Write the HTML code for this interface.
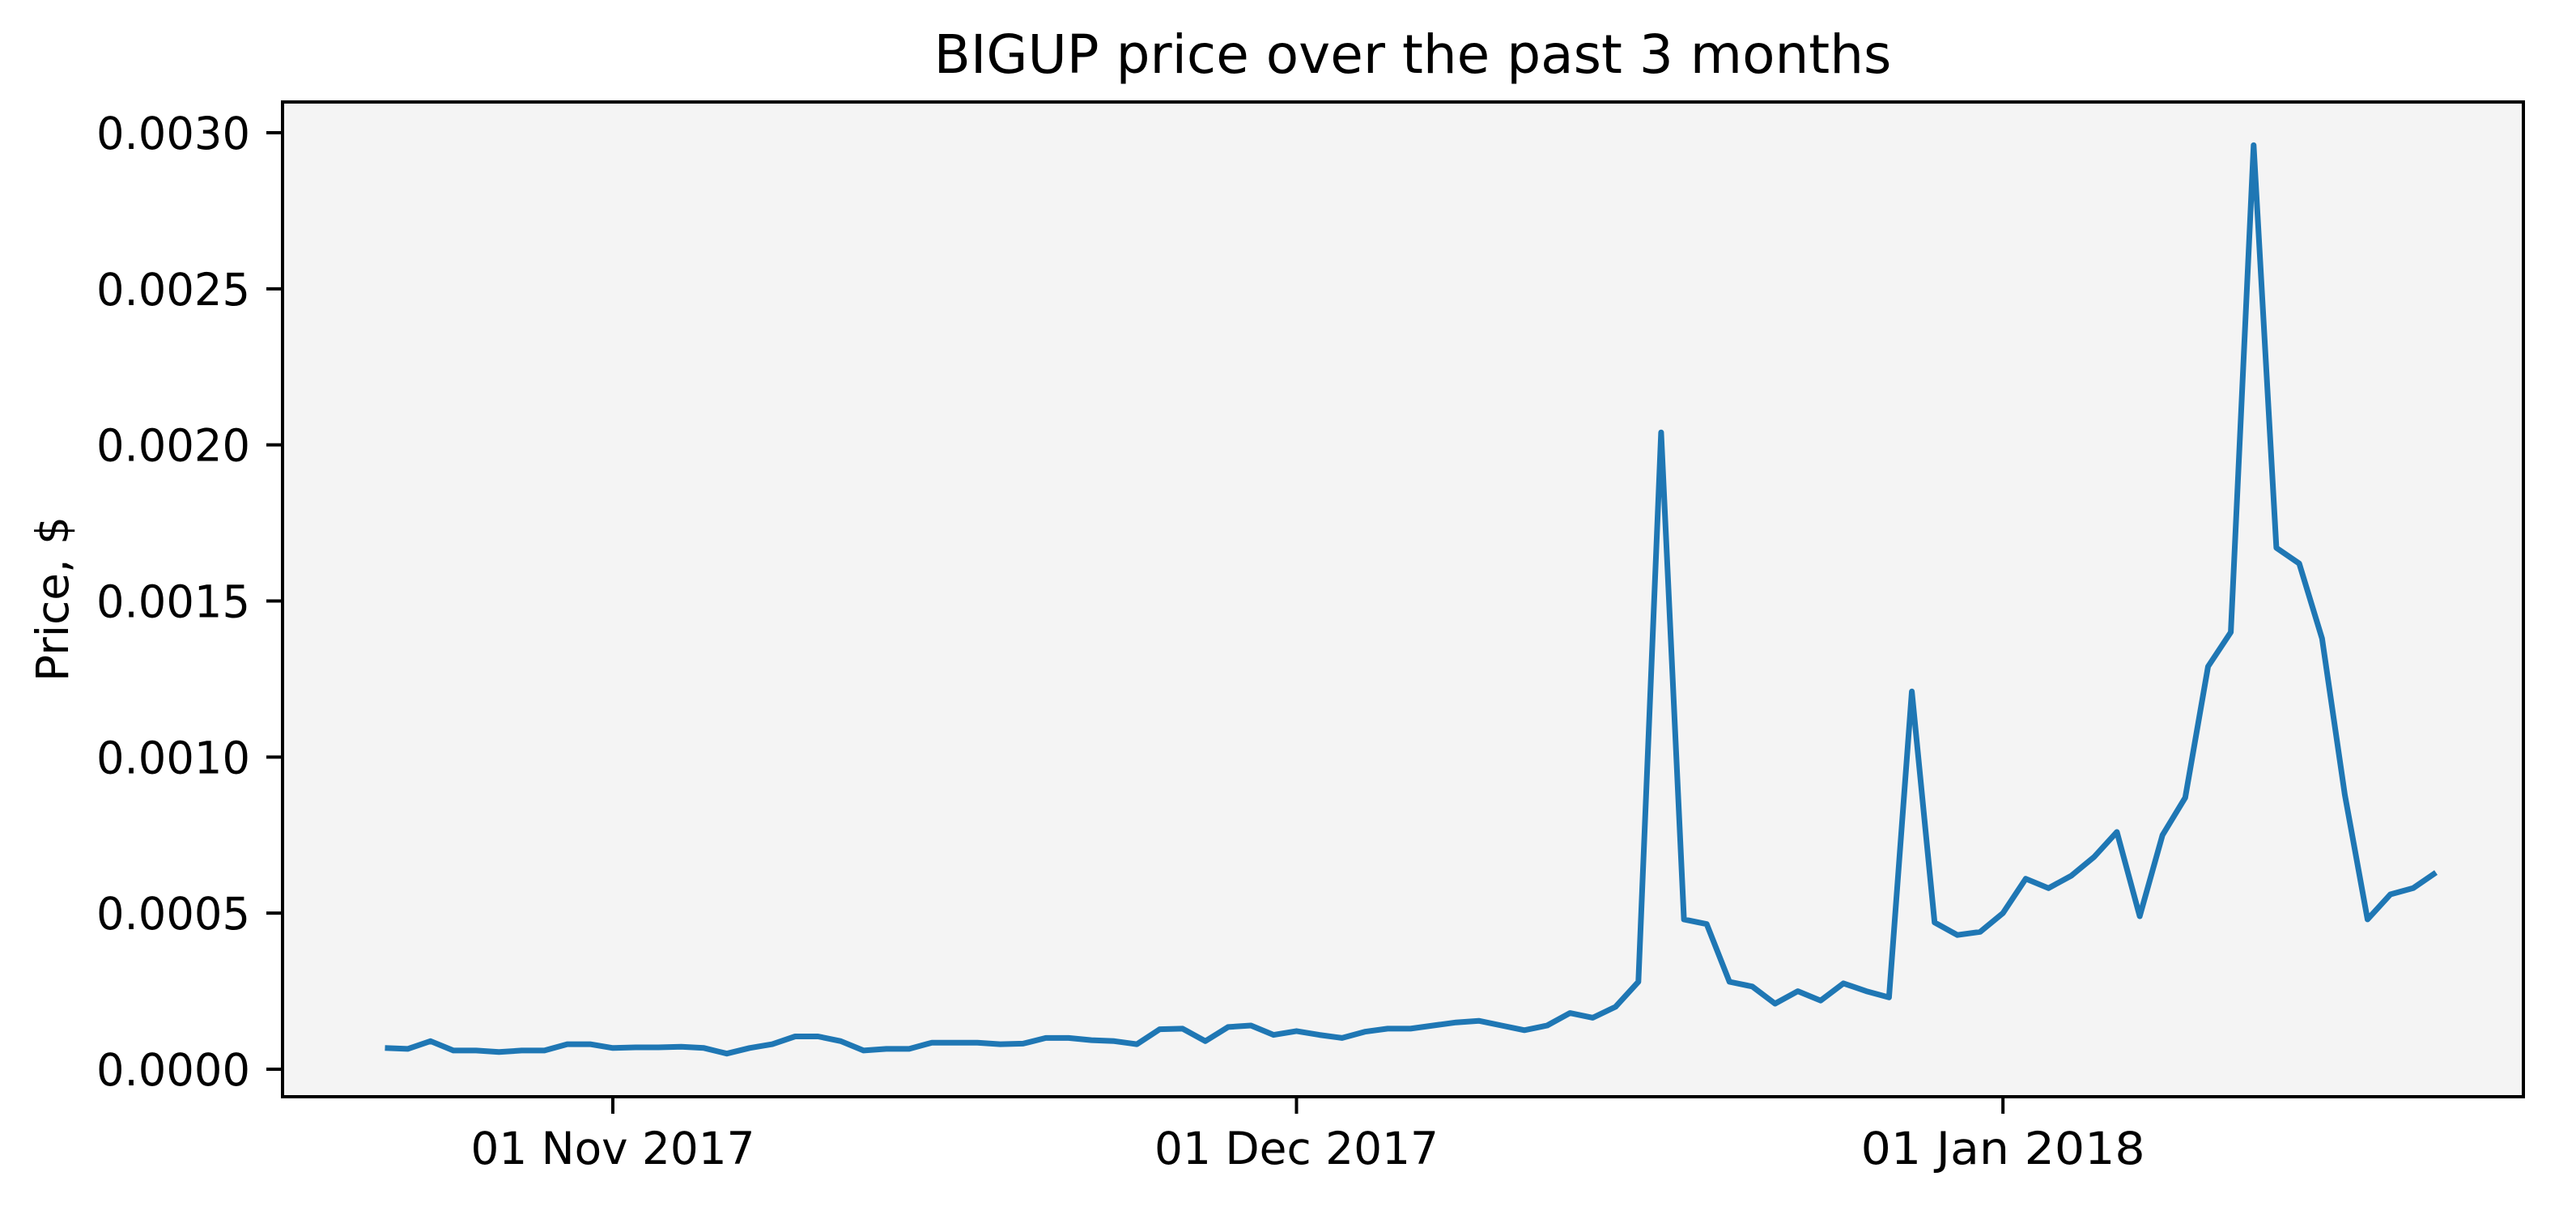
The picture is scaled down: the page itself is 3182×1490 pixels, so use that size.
<!DOCTYPE html>
<html><head><meta charset="utf-8"><style>
html,body{margin:0;padding:0;background:#fff}
svg{display:block;font-family:"DejaVu Sans","Liberation Sans",sans-serif}
</style></head><body>
<svg id="chart" width="3182" height="1490" viewBox="0 0 3182 1490">
<rect x="0" y="0" width="3182" height="1490" fill="#fff"/>
<rect x="349" y="126" width="2768" height="1229" fill="#f4f4f4"/>
<g id="marks"></g>
<g id="axes"></g>
<rect x="349" y="126" width="2768" height="1229" fill="none" stroke="#000" stroke-width="4"/>
<text x="1745" y="90" font-size="66" text-anchor="middle">BIGUP price over the past 3 months</text>
<text x="0" y="0" font-size="55" text-anchor="middle" transform="translate(84,740) rotate(-90)">Price, $</text>
</svg>
<script>
const startDay = 0; // index 0 = 22 Oct 2017
const prices = [0.000068,0.000065,0.00009,0.00006,0.00006,0.000055,0.00006,0.00006,0.00008,0.00008,
0.000068,0.00007,0.00007,0.000072,0.000068,0.00005,0.000068,0.00008,0.000105,0.000105,
0.00009,0.00006,0.000065,0.000065,0.000085,0.000085,0.000085,0.00008,0.000082,0.0001,
0.0001,0.000093,0.00009,0.00008,0.000128,0.00013,0.00009,0.000135,0.00014,0.00011,
0.000122,0.00011,0.0001,0.00012,0.00013,0.00013,0.00014,0.00015,0.000155,0.00014,
0.000125,0.00014,0.00018,0.000165,0.0002,0.00028,0.00204,0.00048,0.000465,0.00028,
0.000265,0.00021,0.00025,0.00022,0.000275,0.00025,0.00023,0.00121,0.00047,0.00043,
0.00044,0.0005,0.00061,0.00058,0.00062,0.00068,0.00076,0.00049,0.00075,0.00087,
0.00129,0.0014,0.00296,0.00167,0.00162,0.00138,0.00088,0.00048,0.00056,0.00058,0.00063];
const yTicks = [0,0.0005,0.001,0.0015,0.002,0.0025,0.003];
const yTickLabels = ["0.0000","0.0005","0.0010","0.0015","0.0020","0.0025","0.0030"];
const xTickDays = [10,40,71];
const xTickLabels = ["01 Nov 2017","01 Dec 2017","01 Jan 2018"];

const NS="http://www.w3.org/2000/svg";
function xs(d){return 757+(d-10)*28.15;}
function ys(v){return 1321-v*(1157/0.003);}
const marks=document.getElementById('marks'), axes=document.getElementById('axes');
let pts=prices.map((v,i)=>xs(startDay+i).toFixed(1)+","+ys(v).toFixed(1)).join(" ");
const pl=document.createElementNS(NS,'polyline');
pl.setAttribute('points',pts);pl.setAttribute('fill','none');pl.setAttribute('stroke','#1f77b4');
pl.setAttribute('stroke-width','7');pl.setAttribute('stroke-linejoin','round');


marks.appendChild(pl);
yTicks.forEach((v,i)=>{
  const y=ys(v);
  const l=document.createElementNS(NS,'line');
  l.setAttribute('x1',329);l.setAttribute('x2',349);l.setAttribute('y1',y);l.setAttribute('y2',y);
  l.setAttribute('stroke','#000');l.setAttribute('stroke-width','4');
  
  
  axes.appendChild(l);
  const t=document.createElementNS(NS,'text');
  t.setAttribute('x',309);t.setAttribute('y',y+20);t.setAttribute('font-size','55');t.setAttribute('text-anchor','end');
  t.setAttribute('textLength','190');t.setAttribute('lengthAdjust','spacingAndGlyphs');
  t.textContent=yTickLabels[i];
  
  
  axes.appendChild(t);
});
xTickDays.forEach((d,i)=>{
  const x=xs(d);
  const l=document.createElementNS(NS,'line');
  l.setAttribute('x1',x);l.setAttribute('x2',x);l.setAttribute('y1',1355);l.setAttribute('y2',1376);
  l.setAttribute('stroke','#000');l.setAttribute('stroke-width','4');
  
  
  axes.appendChild(l);
  const t=document.createElementNS(NS,'text');
  t.setAttribute('x',x);t.setAttribute('y',1438);t.setAttribute('font-size','55');t.setAttribute('text-anchor','middle');
  t.setAttribute('textLength','351');t.setAttribute('lengthAdjust','spacingAndGlyphs');
  t.textContent=xTickLabels[i];
  
  
  axes.appendChild(t);
});
</script>
</body></html>
